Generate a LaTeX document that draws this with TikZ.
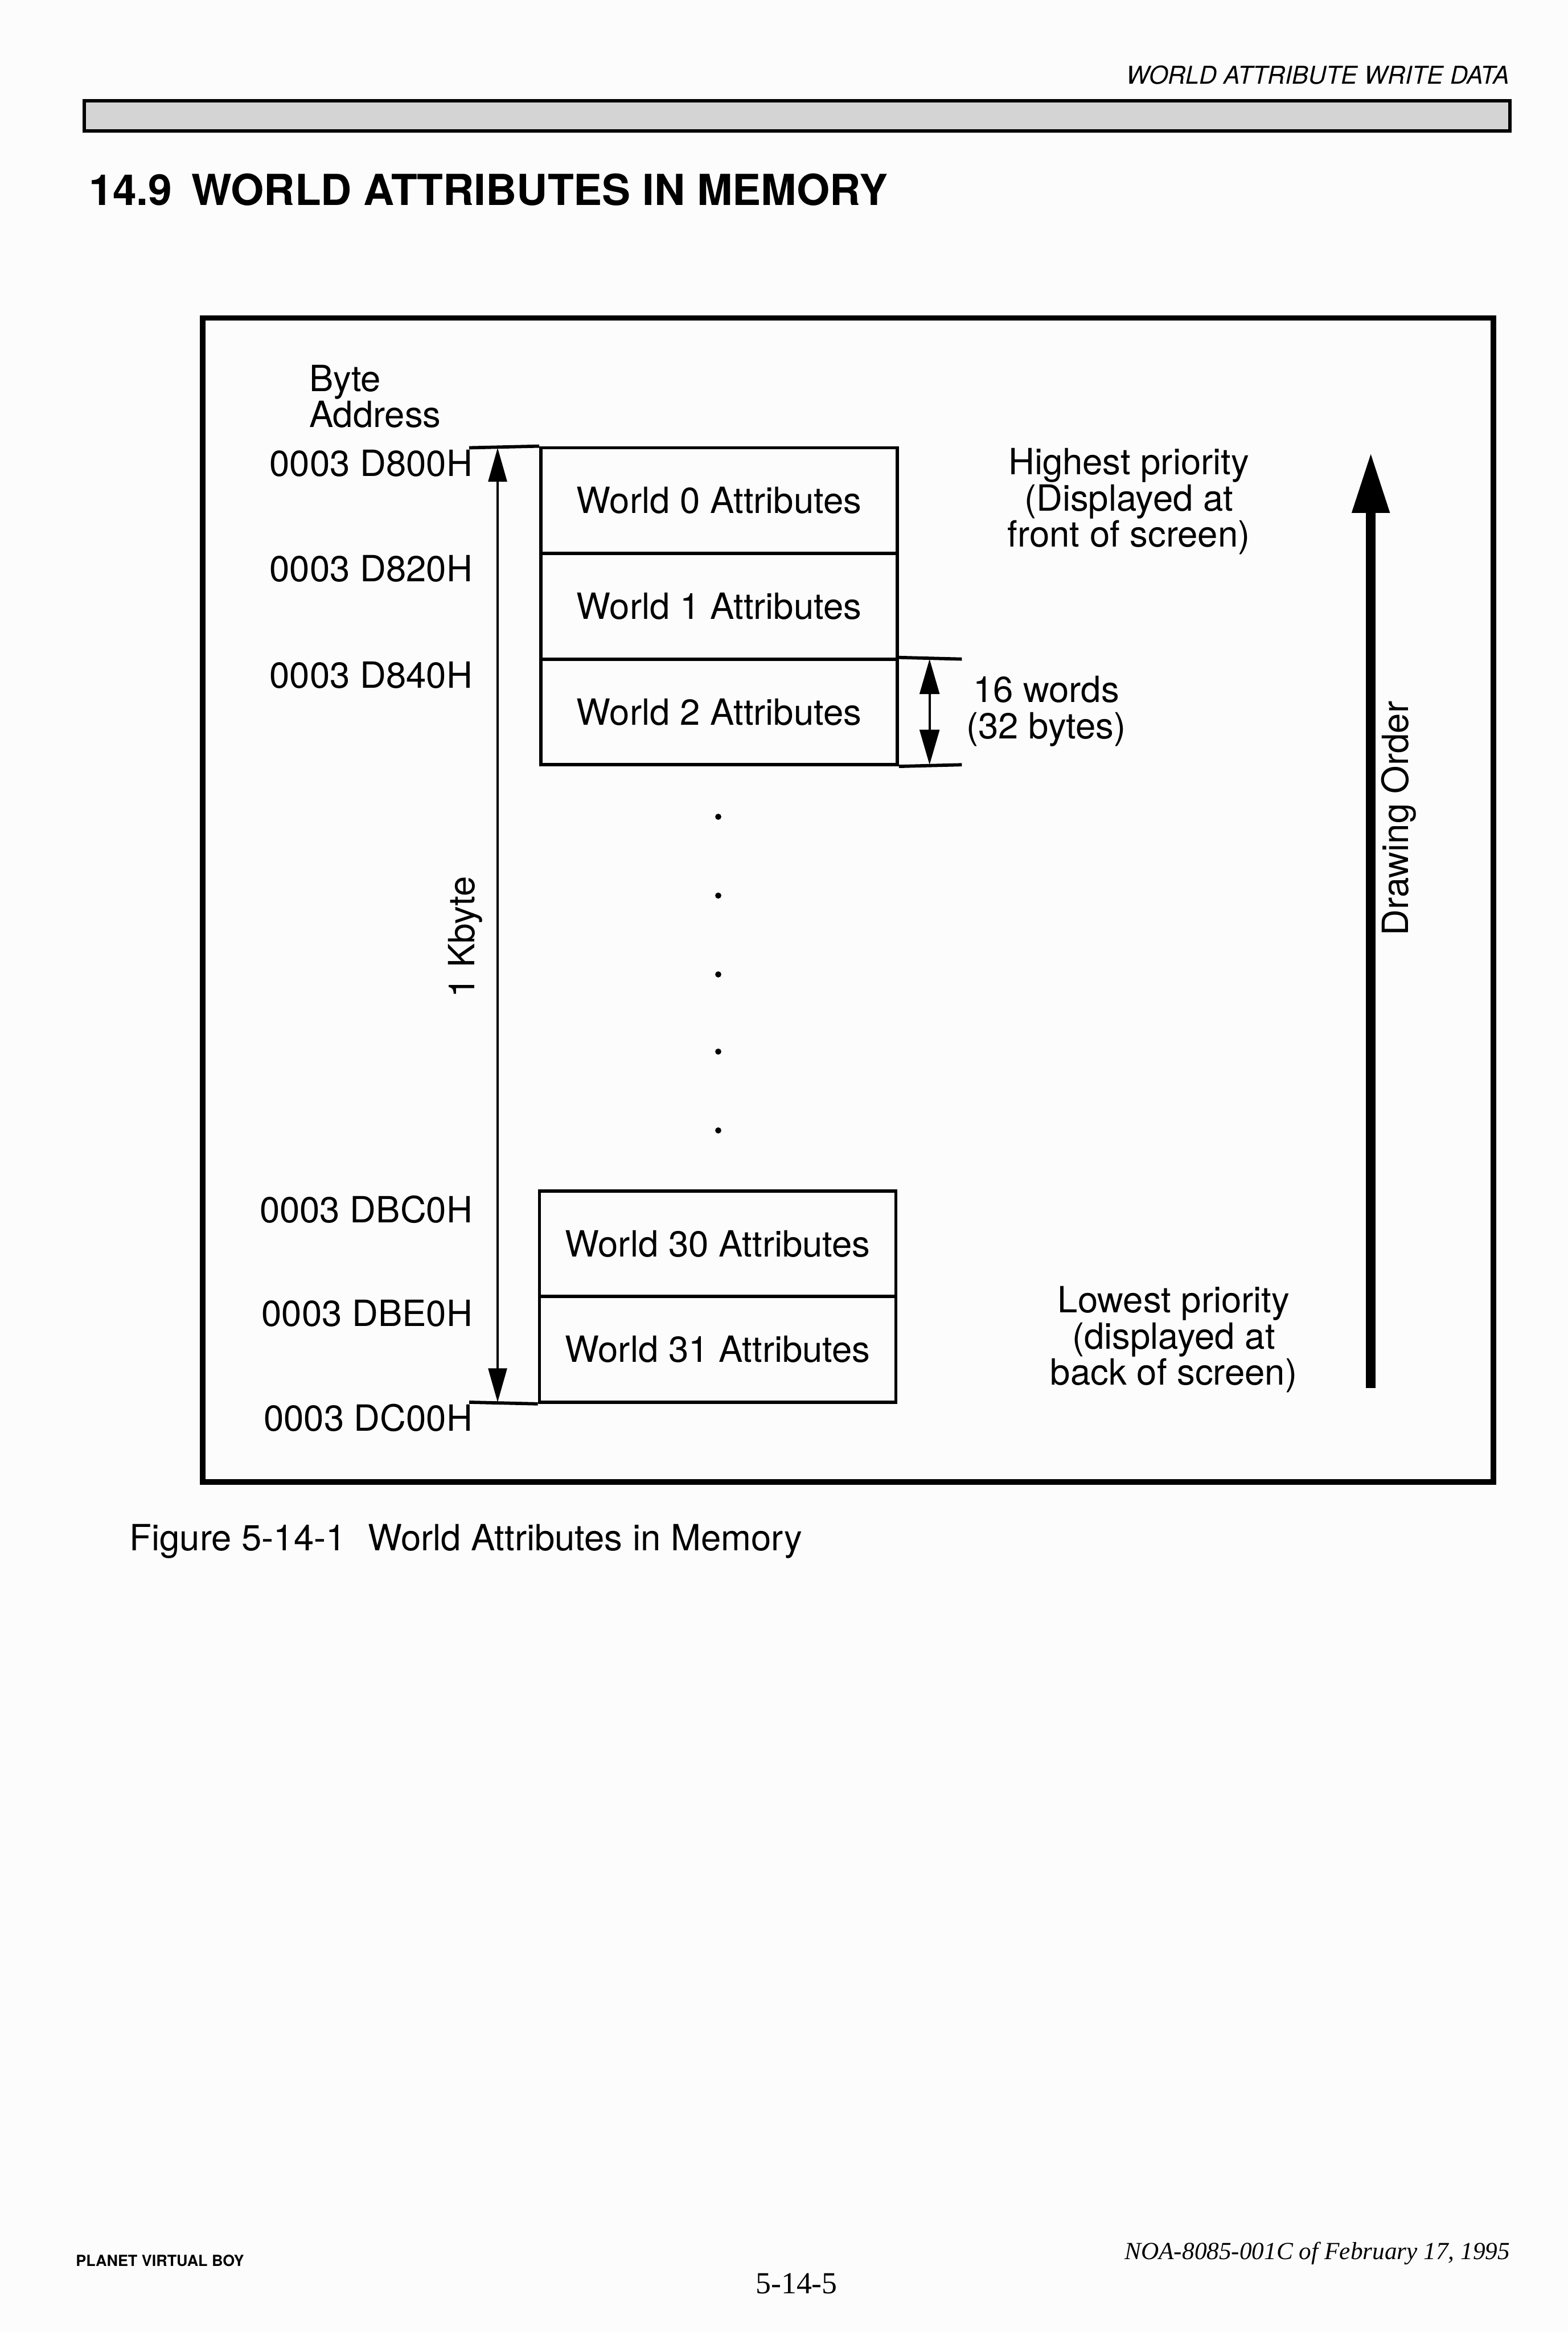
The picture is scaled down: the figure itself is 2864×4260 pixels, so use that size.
\documentclass[tikz,border=0pt]{standalone}
\usepackage{fontspec}
\setmainfont{TeX Gyre Heros}
\newfontfamily\footserif{Liberation Serif}
\usetikzlibrary{arrows.meta}
\newcommand\lblfont{\fontsize{16.5}{16.5}\selectfont}
\definecolor{paper}{RGB}{252,252,252}
\definecolor{bannerfill}{RGB}{212,212,212}
\begin{document}
\begin{tikzpicture}[x=0.25pt,y=-0.25pt,
  lbl/.style={font=\lblfont, inner sep=0pt},
  addr/.style={lbl, anchor=base east},
  multi/.style={lbl, align=center, anchor=base},
  wbox/.style={draw, line width=1.5pt, minimum width=162.75pt, minimum height=48.25pt, inner sep=0pt, font=\lblfont},
  tick/.style={line width=1.5pt},
  kbarrow/.style={line width=1pt, {Triangle[length=15.5pt,width=8.5pt]}-{Triangle[length=15.5pt,width=8.5pt]}},
  dimarrow/.style={line width=1pt, {Triangle[length=16pt,width=9pt]}-{Triangle[length=16pt,width=9pt]}},
  orderarrow/.style={line width=4.25pt, -{Triangle[length=27.5pt,width=16.25pt]}},
  dot/.style={fill=black}
]
\fill[paper] (0,0) rectangle (2864,4260);
\useasboundingbox (0,0) rectangle (2864,4260);

% header
\node[anchor=base east, inner sep=0pt, font=\fontsize{11.2}{13}\selectfont\itshape] (hdr) at (2758,153) {WORLD ATTRIBUTE WRITE DATA};
\draw[line width=1.5pt, fill=bannerfill] (154,184) rectangle (2758,239);
\node[anchor=base west, inner sep=0pt, font=\fontsize{19.5}{22}\selectfont\bfseries] (title) at (162,375) {14.9\hspace{0.45em}WORLD ATTRIBUTES IN MEMORY};

% frame
\draw[line width=2.5pt] (370,581) rectangle (2728,2707);

% byte address column (base anchor = baseline of last line)
\node[lbl, align=left, anchor=base west] (byteaddr) at (564,781) {Byte\\Address};
\node[addr] (a0) at (864,870) {0003 D800H};
\node[addr] (a1) at (864,1062) {0003 D820H};
\node[addr] (a2) at (864,1257) {0003 D840H};
\node[addr] (a30) at (864,2233) {0003 DBC0H};
\node[addr] (a31) at (864,2423) {0003 DBE0H};
\node[addr] (aend) at (864,2614) {0003 DC00H};

% memory boxes
\node[wbox] (w0) at (1313.5,914.5) {World 0 Attributes};
\node[wbox] (w1) at (1313.5,1107.5) {World 1 Attributes};
\node[wbox] (w2) at (1313.5,1300.5) {World 2 Attributes};
\node[wbox] (w30) at (1311,2272) {World 30 Attributes};
\node[wbox] (w31) at (1311,2465) {World 31 Attributes};

% dots
\foreach \yy in {1492,1636,1780,1921,2065}
  \fill[dot] (1312,\yy) circle[radius=1.4pt];

% 1 Kbyte span
\coordinate (ktop) at (857,818);
\coordinate (kbot) at (857,2561.5);
\draw[tick] (ktop) -- (w0.north west);
\draw[tick] (kbot) -- (w31.south west);
\coordinate (karrtop) at (909,818);
\coordinate (karrbot) at (909,2561.5);
\draw[kbarrow] (karrtop) -- (karrbot);
\node[lbl, rotate=90] (kb) at (850,1712) {1 Kbyte};

% 16 words dimension
\coordinate (dimtopend) at (1757,1204);
\coordinate (dimbotend) at (1757,1397);
\draw[tick] (w2.north east) -- (dimtopend);
\draw[tick] (w2.south east) -- (dimbotend);
\coordinate (dimtop) at (1698,1204);
\coordinate (dimbot) at (1698,1397);
\draw[dimarrow] (dimtop) -- (dimbot);
\node[multi] (words) at (1911,1349) {16 words\\(32 bytes)};

% priority notes
\node[multi] (high) at (2062,999) {Highest priority\\(Displayed at\\front of screen)};
\node[multi] (low) at (2144,2530) {Lowest priority\\(displayed at\\back of screen)};

% drawing order arrow
\coordinate (ordbot) at (2504,2536);
\coordinate (ordtop) at (2504,827);
\draw[orderarrow] (ordbot) -- (ordtop);
\node[lbl, rotate=90] (dord) at (2555,1495) {Drawing Order};

% caption
\node[lbl, anchor=base west] (caption) at (236,2832) {Figure 5-14-1\hspace{0.6em}World Attributes in Memory};

% footer
\node[anchor=base west, inner sep=0pt, font=\fontsize{7}{8}\selectfont\bfseries] (foot1) at (138,4140) {PLANET VIRTUAL BOY};
\node[anchor=base, inner sep=0pt, font=\footserif\fontsize{14}{16}\selectfont] (pageno) at (1455,4190) {5-14-5};
\node[anchor=base east, inner sep=0pt, font=\footserif\itshape\fontsize{11.25}{13}\selectfont] (foot2) at (2759,4127) {NOA-8085-001C of February 17, 1995};
\end{tikzpicture}
\end{document}
